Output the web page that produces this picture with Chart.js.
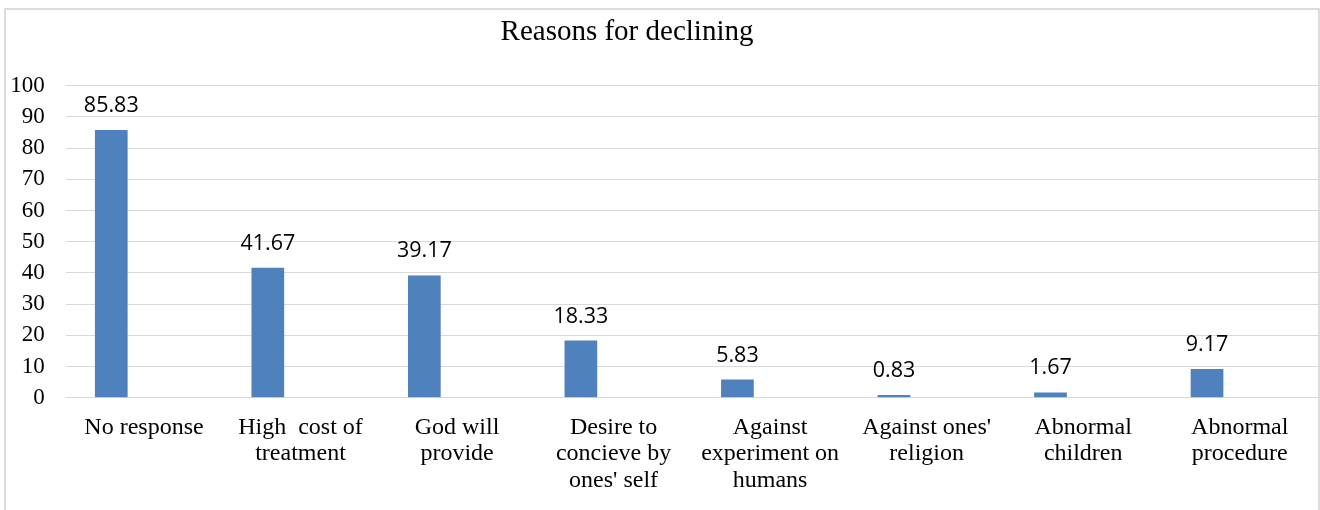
<!DOCTYPE html>
<html>
<head>
<meta charset="utf-8">
<script src="https://cdn.jsdelivr.net/npm/chart.js@4.4.1/dist/chart.umd.min.js"></script>
<style>
  html, body { margin: 0; padding: 0; background: #fff; overflow: hidden; }
  #wrap { position: relative; width: 1320px; height: 510px; }
  #frame { position: absolute; left: 4px; top: 8px; width: 1316px; height: 600px;
           box-sizing: border-box; border: 2px solid #dcdcdc; pointer-events: none; }
  canvas { position: absolute; left: 0; top: 0; }
</style>
</head>
<body>
<div id="wrap">
  <canvas id="c" width="1320" height="510"></canvas>
  <div id="frame"></div>
</div>
<script>
const chartTitle = "Reasons for declining";
const categories = [
  "No response",
  ["High  cost of", "treatment"],
  ["God will", "provide"],
  ["Desire to", "concieve by", "ones' self"],
  ["Against", "experiment on", "humans"],
  ["Against ones'", "religion"],
  ["Abnormal", "children"],
  ["Abnormal", "procedure"]
];
const values = [85.83, 41.67, 39.17, 18.33, 5.83, 0.83, 1.67, 9.17];
const emptySeries = [null, null, null, null, null, null, null, null];
const yMin = 0, yMax = 100, yStep = 10;

const serif = "'Liberation Serif', 'Times New Roman', serif";
const sans = "'Open Sans', 'Liberation Sans', sans-serif";

const valueLabels = {
  id: 'valueLabels',
  afterDatasetsDraw(chart) {
    const ctx = chart.ctx;
    const meta = chart.getDatasetMeta(0);
    ctx.save();
    ctx.font = "21.5px " + sans;
    ctx.fillStyle = "#000";
    ctx.textAlign = "center";
    ctx.textBaseline = "alphabetic";
    meta.data.forEach((bar, i) => {
      const v = chart.data.datasets[0].data[i];
      ctx.fillText(v.toFixed(2), bar.x, bar.y - 18);
    });
    ctx.restore();
  }
};

const titleShift = {
  id: 'titleShift',
  afterLayout(chart) {
    const t = chart.titleBlock;
    if (t) {
      const w = t.right - t.left;
      t.left = 627 - w / 2;
      t.right = 627 + w / 2;
    }
  }
};

new Chart(document.getElementById('c'), {
  type: 'bar',
  data: {
    labels: categories,
    datasets: [
      { data: values, backgroundColor: '#4F81BD', borderWidth: 0,
        categoryPercentage: 0.8356, barPercentage: 0.5 },
      { data: emptySeries, backgroundColor: '#C0504D', borderWidth: 0,
        categoryPercentage: 0.8356, barPercentage: 0.5 }
    ]
  },
  options: {
    responsive: false,
    animation: false,
    devicePixelRatio: 1,
    layout: { padding: { left: 0, right: 2, top: 0, bottom: 0 } },
    plugins: {
      legend: { display: false },
      tooltip: { enabled: false },
      title: {
        display: true,
        text: chartTitle,
        color: '#000',
        font: { family: serif, size: 29, weight: 'normal', lineHeight: 1.2 },
        padding: { top: 15.2, bottom: 35.7 }
      }
    },
    scales: {
      x: {
        grid: { display: false, drawTicks: false },
        border: { display: false },
        ticks: {
          color: '#000',
          font: { family: serif, size: 24, lineHeight: 1.11 },
          padding: 16.5,
          maxRotation: 0,
          autoSkip: false
        },
        afterFit(scale) { scale.height = 112.3; }
      },
      y: {
        min: yMin, max: yMax,
        grid: { color: '#d9d9d9', lineWidth: 1, drawTicks: false },
        border: { display: false },
        ticks: {
          stepSize: yStep,
          color: '#000',
          font: { family: serif, size: 23 },
          padding: 21
        },
        afterFit(scale) { scale.width = 65.7; }
      }
    }
  },
  plugins: [valueLabels, titleShift]
});
</script>
</body>
</html>
